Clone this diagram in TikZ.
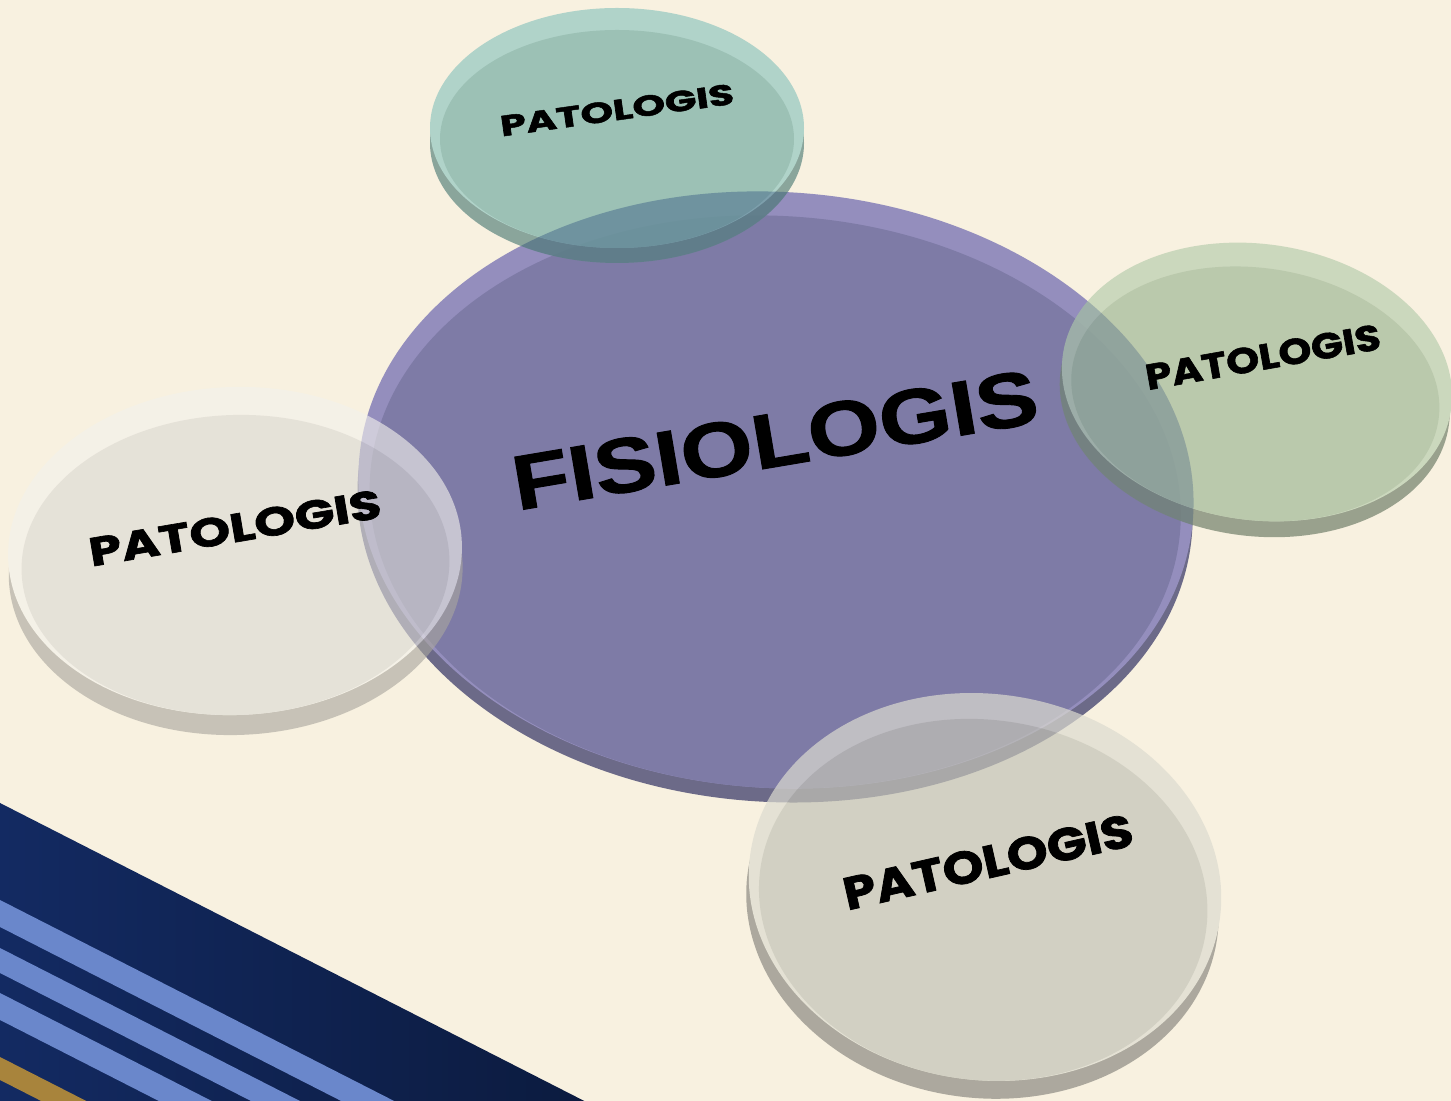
\documentclass[tikz,border=0pt]{standalone}
\usepackage{fontspec}
\setmainfont{Liberation Sans}[BoldFeatures={FakeBold=1.2}]
\newfontfamily\roundfont{Poppins}[BoldFeatures={FakeBold=1.6}]
\usetikzlibrary{positioning,calc}

\definecolor{cream}{HTML}{F8F1E0}
\definecolor{navy}{HTML}{132A62}
\definecolor{navydark}{HTML}{0A1838}
\definecolor{stripeblue}{HTML}{6A87CB}
\definecolor{gold}{HTML}{A8843C}
\definecolor{fisioface}{HTML}{7E7BA6}
\definecolor{fisiorim}{HTML}{948EBD}
\definecolor{fisioside}{HTML}{6C6A88}
\definecolor{tealface}{HTML}{8CB9AE}
\definecolor{tealrim}{HTML}{A4CEC5}
\definecolor{tealside}{HTML}{779890}
\definecolor{greenface}{HTML}{B0C2A4}
\definecolor{greenrim}{HTML}{C4D4B7}
\definecolor{greenside}{HTML}{89937F}
\definecolor{leftface}{HTML}{DAD9D4}
\definecolor{leftrim}{HTML}{F3F1EC}
\definecolor{leftside}{HTML}{A9A69E}
\definecolor{lowface}{HTML}{C3C3B7}
\definecolor{lowrim}{HTML}{DCDBD0}
\definecolor{lowside}{HTML}{8C8A82}
\definecolor{deepblue}{HTML}{2A4C78}

\tikzset{
  bigword/.style={font=\bfseries\fontsize{22}{22}\selectfont, inner sep=0pt},
  smallword/.style={font=\roundfont\bfseries\fontsize{#1}{#1}\selectfont, inner sep=0pt},
  glass/.style={transparency group, opacity=#1},
}

\begin{document}
\begin{tikzpicture}[x=0.01cm, y=-0.01cm]
  \useasboundingbox (0,0) rectangle (1451,1101);
  \fill[cream] (0,0) rectangle (1451,1101);

  % stripes in the corner
  \begin{scope}
    \clip (0,0) rectangle (1451,1101);
    \shade[left color=navy, right color=navydark] (0,803) -- (700,1160) -- (0,1160) -- cycle;
    \fill[stripeblue] (0,900) -- (700,1257) -- (700,1284) -- (0,927) -- cycle;
    \fill[stripeblue] (0,948) -- (700,1305) -- (700,1330) -- (0,973) -- cycle;
    \fill[stripeblue] (0,993) -- (700,1350) -- (700,1377) -- (0,1020) -- cycle;
    \fill[gold] (0,1057) -- (700,1414) -- (700,1437) -- (0,1080) -- cycle;
  \end{scope}

  \coordinate (fisio) at (776,490);
  \coordinate (top) at (617,128);
  \coordinate (right) at (1257,382);
  \coordinate (left) at (235,551);
  \coordinate (low) at (985,887);

  % big disc
  \begin{scope}[rotate around={-3.6:(fisio)}]
    \fill[fisioside] ($(fisio)+(0,14)$) ellipse [x radius=418, y radius=298];
    \fill[fisiorim] (fisio) ellipse [x radius=418, y radius=298];
    \fill[fisioface] ($(fisio)+(0,12)$) ellipse [x radius=406, y radius=286];
  \end{scope}

  % small discs
  \begin{scope}[glass=.85]
    \fill[tealside] ($(top)+(0,15)$) ellipse [x radius=187, y radius=120];
    \fill[tealrim] (top) ellipse [x radius=187, y radius=120];
    \fill[tealface] ($(top)+(0,11)$) ellipse [x radius=177, y radius=109];
  \end{scope}
  \begin{scope}[glass=.85, rotate around={-8:(right)}]
    \fill[greenside] ($(right)+(0,16)$) ellipse [x radius=196, y radius=138];
    \fill[greenrim] (right) ellipse [x radius=196, y radius=138];
    \fill[greenface] ($(right)+(0,12)$) ellipse [x radius=185, y radius=126];
  \end{scope}
  \begin{scope}[glass=.62, rotate around={2:(left)}]
    \fill[leftside] ($(left)+(0,20)$) ellipse [x radius=227, y radius=164];
    \fill[leftrim] (left) ellipse [x radius=227, y radius=164];
    \fill[leftface] ($(left)+(0,14)$) ellipse [x radius=214, y radius=150];
  \end{scope}
  \begin{scope}[glass=.7, rotate around={-8:(low)}]
    \fill[lowside] ($(low)+(0,18)$) ellipse [x radius=237, y radius=193];
    \fill[lowrim] (low) ellipse [x radius=237, y radius=193];
    \fill[lowface] ($(low)+(0,13)$) ellipse [x radius=225, y radius=180];
  \end{scope}

  % deeper tone where teal and green lie on the big disc
  \begin{scope}
    \clip[rotate around={-3.6:(fisio)}] (fisio) ellipse [x radius=418, y radius=298]
      ($(fisio)+(0,14)$) ellipse [x radius=418, y radius=298];
    \fill[deepblue, opacity=.3] (top) ellipse [x radius=187, y radius=120]
      ($(top)+(0,15)$) ellipse [x radius=187, y radius=120];
    \fill[deepblue, opacity=.2, rotate around={-8:(right)}] (right) ellipse [x radius=196, y radius=138]
      ($(right)+(0,16)$) ellipse [x radius=196, y radius=138];
  \end{scope}

  % words
  \node[bigword, rotate=9.6, xscale=1.2] (fisioword) at (775,440) {FISIOLOGIS};
  \node[smallword=8.2, rotate=8, xscale=1.44] (topword) at (617,110) {PATOLOGIS};
  \node[smallword=10.2, rotate=10, xscale=1.17] (rightword) at (1263,357) {PATOLOGIS};
  \node[smallword=11.4, rotate=9.6, xscale=1.3] (leftword) at (235,528) {PATOLOGIS};
  \node[smallword=13, rotate=12.8, xscale=1.14] (lowword) at (988,862) {PATOLOGIS};
\end{tikzpicture}
\end{document}
